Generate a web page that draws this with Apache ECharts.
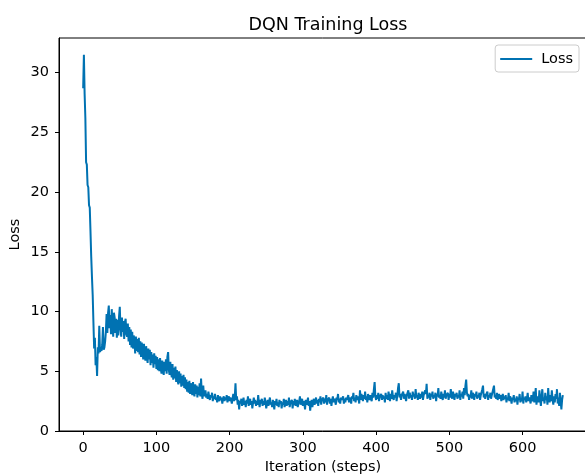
<!DOCTYPE html>
<html>
<head>
<meta charset="utf-8">
<title>DQN Training Loss</title>
<script src="https://cdn.jsdelivr.net/npm/echarts@6/dist/echarts.min.js"></script>
<style>
  html, body { margin: 0; padding: 0; background: #fff; }
  #main { width: 585px; height: 475px; }
</style>
</head>
<body>
<div id="main"></div>
<script>
// loss per training step (steps 0..655)
var loss = [
  28.7, 31.5, 28.2, 26.2, 22.5, 22.3, 20.6, 20.4, 18.9, 18.7, 16.7, 14.6, 12.9, 11.4, 9.1,
  6.9, 7.8, 5.5, 6.2, 4.6, 7.0, 6.5, 8.8, 6.6, 6.9, 6.7, 7.2, 8.7, 6.8, 7.0, 7.5,
  8.3, 9.8, 8.2, 9.9, 10.5, 8.6, 9.7, 8.1, 10.2, 9.0, 7.9, 9.9, 9.5, 8.2, 9.4,
  7.8, 9.3, 8.0, 9.6, 10.4, 8.5, 7.9, 9.5, 8.3, 9.2, 7.7, 9.1, 9.4, 8.1, 7.9,
  9.0, 7.5, 8.7, 7.2, 8.5, 7.0, 8.3, 6.9, 8.0, 7.6, 6.5, 7.9, 6.7, 7.7, 6.6,
  7.8, 6.4, 7.5, 6.2, 7.4, 6.8, 6.0, 7.3, 6.4, 5.9, 7.1, 6.2, 5.7, 6.9, 6.0, 6.8, 5.5, 6.6, 5.7, 6.4, 5.3, 6.5, 5.6, 6.3, 5.2,
  6.2, 5.1, 6.0, 5.0, 6.1, 5.2, 4.8, 5.9, 5.1, 4.7, 5.8, 5.0, 6.0, 4.8, 6.2, 6.6, 5.1, 4.7, 5.8, 4.9,
  4.5, 5.6, 4.3, 5.3, 4.4, 5.4, 4.1, 5.1, 4.2, 3.9, 5.0, 4.0, 4.8, 3.7, 4.6, 3.8, 4.7, 3.6, 4.5, 3.5,
  4.3, 3.3, 4.1, 3.2, 4.2, 3.1, 4.0, 3.4, 3.0, 4.1, 3.2, 2.9, 3.9, 3.1, 3.8, 2.8, 3.7, 3.0, 4.0, 2.9, 4.4, 3.1, 2.7, 3.8, 2.9,
  2.9, 3.4, 2.8, 3.1, 2.7, 3.3, 2.9, 2.6, 3.0, 2.8, 3.2, 2.5, 2.9, 2.7, 3.1, 2.6, 2.8, 2.4, 3.0, 2.7, 2.5, 2.9, 2.6,
  2.8, 2.3, 2.7, 2.9, 2.5, 2.8, 2.6, 3.0, 2.4, 2.7, 2.9, 2.5, 2.8, 2.6, 2.3, 2.7, 3.1, 2.5, 2.8, 4.0, 2.6, 2.9,
  2.2, 2.6, 1.8, 2.5, 2.3, 2.7, 2.1, 2.4, 2.8, 2.2, 2.5, 2.0, 2.6, 2.3, 2.9, 2.1, 2.4, 2.7, 2.2, 2.5, 1.9, 2.4, 2.8, 2.3, 2.6,
  2.1, 2.5, 2.2, 3.0, 2.4, 2.0, 2.6, 2.3, 2.7, 2.1, 2.5, 2.2, 2.8, 2.4, 1.9, 2.3, 2.6, 2.1, 2.5, 2.8, 2.2, 2.4, 2.0, 2.6, 2.3,
  1.8, 2.5, 2.2, 2.7, 2.1, 2.4, 2.0, 2.6, 2.3, 2.5, 1.9, 2.4, 2.2, 2.7, 2.0, 2.3, 2.6, 2.1, 2.5, 2.2, 2.8, 2.0, 2.4, 2.3, 2.6,
  1.9, 2.5, 2.2, 2.7, 2.1, 2.4, 2.6, 2.0, 2.3, 2.5, 2.9, 2.2, 2.4, 2.7, 2.1, 2.5, 2.3, 1.8, 2.6, 2.2, 2.4, 2.8, 2.1, 2.5, 1.7,
  2.3, 2.6, 2.0, 2.4, 2.7, 2.2, 2.5, 2.8, 2.3, 2.6, 2.1, 2.7, 2.4, 2.9, 2.2, 2.6, 2.5, 2.8, 2.3, 2.7, 2.4, 3.0, 2.2, 2.6, 2.5,
  2.8, 2.3, 2.7, 2.1, 2.6, 2.9, 2.4, 2.7, 2.5, 2.2, 2.8, 2.6, 3.1, 2.4, 2.7, 2.3, 2.8, 2.6, 2.5, 2.9, 2.3, 2.7, 2.4, 2.8, 2.6,
  2.5, 3.0, 2.4, 2.8, 2.6, 2.3, 2.9, 2.7, 3.2, 2.5, 2.8, 2.4, 3.0, 2.6, 2.9, 2.7, 2.3, 3.4, 2.6, 3.1, 2.8, 2.5, 3.0, 2.7, 3.3,
  2.6, 2.9, 2.4, 3.1, 2.8, 2.6, 3.0, 2.7, 2.5, 3.2, 2.8, 3.5, 4.1, 2.9, 2.6, 3.0, 2.7, 3.2, 2.5, 2.9, 2.8, 3.1, 2.6, 3.0, 2.7,
  2.9, 2.4, 3.2, 2.7, 3.0, 2.6, 3.3, 2.8, 2.5, 3.1, 2.7, 3.4, 2.9, 2.6, 3.0, 2.8, 3.2, 2.5, 3.0, 3.6, 4.0, 2.8, 3.1, 2.6, 3.0,
  2.9, 3.3, 2.7, 3.1, 2.8, 2.5, 3.0, 2.9, 3.4, 2.7, 3.2, 2.8, 3.0, 2.6, 3.3, 2.9, 3.1, 2.7, 3.5, 2.8, 3.0, 2.6, 3.2, 2.9, 2.7,
  3.1, 2.8, 3.3, 2.6, 3.0, 2.9, 3.4, 3.1, 3.95, 2.7, 3.0, 2.8, 3.2, 2.6, 3.1, 2.9, 3.3, 2.7, 3.0, 2.8, 3.2, 2.5, 3.1, 2.9, 3.6,
  2.8, 3.0, 2.7, 3.3, 2.9, 2.6, 3.1, 2.8, 3.4, 2.7, 3.0, 2.9, 3.2, 2.6, 3.1, 2.8, 3.5, 2.9, 2.7, 3.3, 3.0, 2.6, 3.1, 2.9, 3.2,
  2.7, 3.0, 2.8, 3.4, 2.6, 3.1, 2.9, 3.3, 2.7, 3.6, 3.0, 3.8, 4.3, 3.2, 2.9, 3.1, 2.6, 3.0, 2.8, 3.4, 2.7, 3.2, 3.0, 2.6, 3.1,
  2.9, 3.3, 2.7, 3.0, 2.8, 3.2, 2.6, 3.0, 2.9, 3.5, 3.8, 2.8, 3.1, 2.7, 3.0, 2.9, 3.3, 2.6, 3.0, 2.8, 3.2, 2.7, 3.0, 2.9, 3.1,
  3.8, 2.8, 3.0, 2.7, 3.2, 2.6, 2.9, 3.1, 2.7, 3.0, 2.5, 2.8, 3.1, 2.6, 2.9, 2.7, 3.0, 2.4, 2.8, 2.6, 3.2, 2.5, 2.9, 2.7, 2.3,
  2.8, 2.6, 3.0, 2.4, 2.7, 2.5, 2.9, 2.2, 2.8, 2.6, 3.1, 2.4, 2.7, 2.5, 3.3, 2.3, 2.8, 2.6, 2.9, 2.4, 2.7, 3.2, 2.5, 2.8, 2.6,
  2.3, 3.0, 2.7, 2.5, 3.3, 2.4, 2.8, 3.6, 2.2, 2.9, 2.6, 2.4, 3.4, 2.7, 2.1, 2.9, 3.5, 2.5, 2.8, 2.3, 3.2, 2.6, 2.9, 2.2, 3.6,
  2.7, 2.4, 3.0, 2.5, 3.4, 2.6, 2.2, 2.9, 2.4, 3.1, 2.7, 3.5, 2.3, 2.8, 2.1, 3.2, 2.5, 1.8, 2.6, 3.0
];

var xTicks = [0, 100, 200, 300, 400, 500, 600];
var yTicks = [0, 5, 10, 15, 20, 25, 30];

var points = loss.map(function (v, i) { return [i, v]; });

var font = 'DejaVu Sans';
var myChart = echarts.init(document.getElementById('main'));

var option = {
    animation: false,
    backgroundColor: '#fff',
    title: {
        text: 'DQN Training Loss',
        left: 323,
        textAlign: 'center',
        top: 11,
        textStyle: { fontFamily: font, fontSize: 17.5, fontWeight: 'normal', color: '#000' }
    },
    legend: {
        data: [{ name: 'Loss', icon: 'rect' }],
        right: 6,
        top: 45,
        padding: [6, 6, 5, 5],
        itemWidth: 32,
        itemHeight: 2,
        itemGap: 10,
        borderColor: '#cccccc',
        borderWidth: 1,
        borderRadius: 3,
        textStyle: { fontFamily: font, fontSize: 14.5, color: '#000', padding: [0, 0, 0, 4], lineHeight: 16 }
    },
    grid: {
        left: 59,
        top: 38,
        right: -2,
        bottom: 44,
        outerBoundsMode: 'none',
        show: true,
        borderColor: '#000',
        borderWidth: 1
    },
    xAxis: {
        type: 'value',
        min: -33,
        max: 688,
        name: 'Iteration (steps)',
        nameLocation: 'middle',
        nameGap: 29,
        nameMoveOverlap: false,
        nameTextStyle: { fontFamily: font, fontSize: 14.5, color: '#000' },
        axisLine: { show: true, onZero: false, lineStyle: { color: '#000' } },
        axisTick: { show: true, length: 4, customValues: xTicks, lineStyle: { color: '#000' } },
        axisLabel: { customValues: xTicks, margin: 10, fontFamily: font, fontSize: 14.5, color: '#000' },
        splitLine: { show: false }
    },
    yAxis: {
        type: 'value',
        min: 0,
        max: 32.9,
        name: 'Loss',
        nameLocation: 'middle',
        nameGap: 36,
        nameMoveOverlap: false,
        nameTextStyle: { fontFamily: font, fontSize: 14.5, color: '#000' },
        axisLine: { show: true, onZero: false, lineStyle: { color: '#000' } },
        axisTick: { show: true, length: 4, customValues: yTicks, lineStyle: { color: '#000' } },
        axisLabel: { customValues: yTicks, margin: 10, fontFamily: font, fontSize: 14.5, color: '#000' },
        splitLine: { show: false }
    },
    series: [{
        name: 'Loss',
        type: 'line',
        data: points,
        symbol: 'none',
        color: '#0072B2',
        lineStyle: { width: 2, color: '#0072B2' }
    }]
};

myChart.setOption(option);
</script>
</body>
</html>
